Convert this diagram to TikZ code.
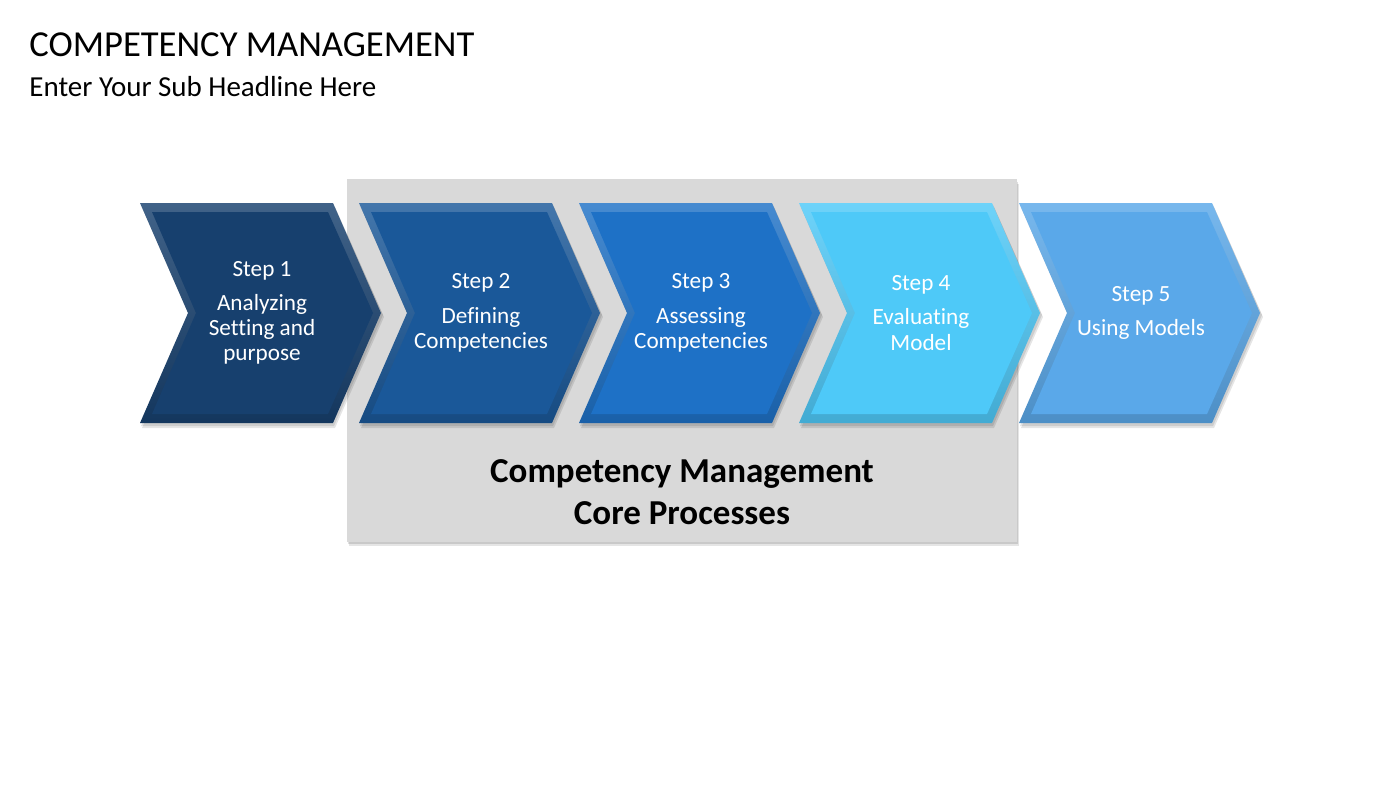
\documentclass[tikz,border=0pt]{standalone}
\usepackage{fontspec}
\setmainfont{Carlito}[Ligatures=NoCommon]
\definecolor{cA}{HTML}{17406E}
\definecolor{cB}{HTML}{1A5899}
\definecolor{cC}{HTML}{1E71C6}
\definecolor{cD}{HTML}{4EC9F8}
\definecolor{cE}{HTML}{5AA8E9}
\definecolor{panel}{HTML}{D9D9D9}
\tikzset{
  titletext/.style={anchor=base west, inner sep=0pt, font=\fontsize{18.3}{22}\selectfont},
  subtext/.style={anchor=base west, inner sep=0pt, font=\fontsize{14.5}{17}\selectfont},
  steptext/.style={align=center, text=white, inner sep=0pt, font=\fontsize{11.6}{12.6}\selectfont},
  coretext/.style={align=center, text=black, inner sep=0pt, font=\fontsize{17.5}{21}\selectfont\bfseries},
}
\newcommand\mychev[4]{%
  % #1 x0, #2 colour, #3 name, #4 text
  \fill[black, opacity=0.10] (#1+1,205) -- (#1+194,205) -- (#1+243,315) -- (#1+194,426) -- (#1+1,426) -- (#1+49,315) -- cycle;
  \fill[black, opacity=0.10] (#1+2,207) -- (#1+195,207) -- (#1+244,317) -- (#1+195,428) -- (#1+2,428) -- (#1+50,317) -- cycle;
  \shade[top color=#2!82!white, bottom color=#2!85!black]
    (#1,203) -- (#1+193,203) -- (#1+241,313) -- (#1+193,423) -- (#1,423) -- (#1+48,313) -- cycle;
  \fill[#2]
    (#1+12,212) -- (#1+188,212) -- (#1+233,313) -- (#1+188,414) -- (#1+12,414) -- (#1+56,313) -- cycle;
  \node[steptext] (#3) at (#1+122,313) {#4};
}
\begin{document}
\begin{tikzpicture}[x=0.5pt,y=-0.5pt]
\useasboundingbox[fill=white] (0,0) rectangle (1400,788);
\node[titletext] (title) at (29,56) {COMPETENCY MANAGEMENT};
\node[subtext] (sub) at (29,96) {Enter Your Sub Headline Here};
% panel
\fill[black, opacity=0.10] (349,184) rectangle (1019,546);
\fill[black, opacity=0.12] (348,182) rectangle (1018,544);
\fill[panel] (347,179) rectangle (1017,542);
\mychev{140}{cA}{s1}{Step 1\\[4.5pt]Analyzing\\Setting and\\purpose}
\mychev{359}{cB}{s2}{Step 2\\[4.5pt]Defining\\Competencies}
\mychev{579}{cC}{s3}{Step 3\\[4.5pt]Assessing\\Competencies}
\mychev{799}{cD}{s4}{Step 4\\[4.5pt]Evaluating\\Model}
\mychev{1019}{cE}{s5}{Step 5\\[4.5pt]Using Models}
\node[coretext] (core) at (682,492) {Competency Management\\Core Processes};
\end{tikzpicture}
\end{document}
